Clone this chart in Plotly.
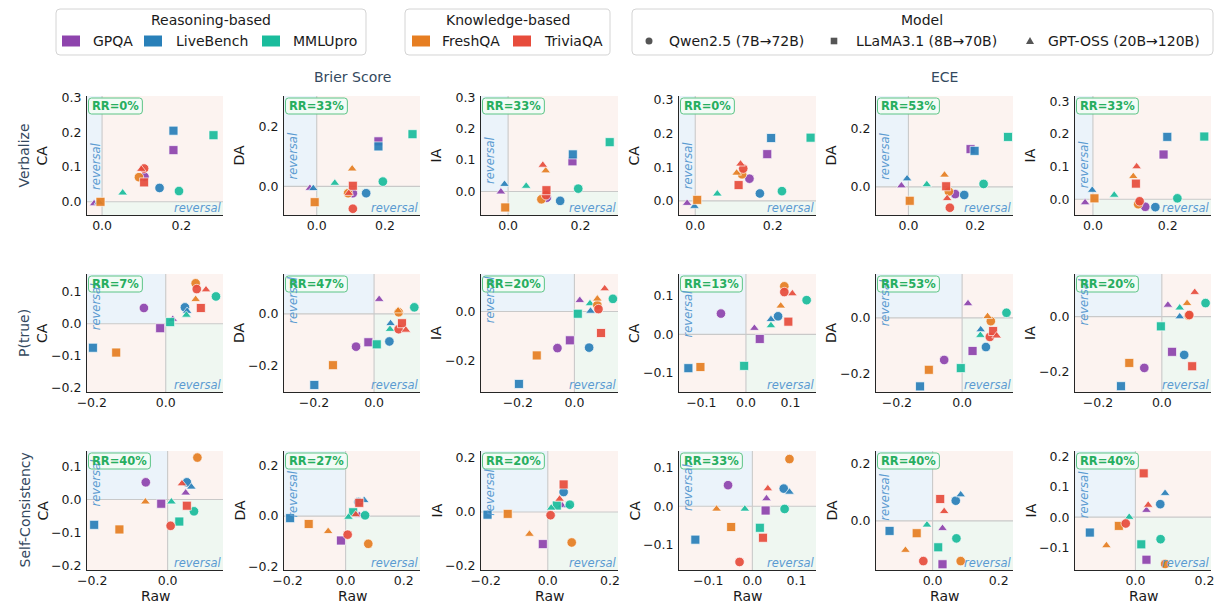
import plotly.graph_objects as go

W, H = 1222, 604
FONT = "DejaVu Sans"

# ---------------- categories ----------------
DATASETS = ["GPQA", "LiveBench", "MMLUpro", "FreshQA", "TriviaQA"]
DATASET_COLORS = ["#8e44ad", "#2980b9", "#1abc9c", "#e67e22", "#e74c3c"]
REASONING_SETS = ["GPQA", "LiveBench", "MMLUpro"]
KNOWLEDGE_SETS = ["FreshQA", "TriviaQA"]
MODELS = ["Qwen2.5 (7B→72B)", "LLaMA3.1 (8B→70B)", "GPT-OSS (20B→120B)"]
MODEL_SYMBOLS = ["circle", "square", "triangle-up"]
METHODS = ["Verbalize", "P(true)", "Self-Consistency"]
METRICS = ["Brier Score", "ECE"]
ACC_TYPES = ["CA", "DA", "IA"]

# ---------------- data ----------------
# point order: dataset-major (GPQA, LiveBench, MMLUpro, FreshQA, TriviaQA), model-minor (Qwen, LLaMA, GPT-OSS)
VERB_BRIER_CA_RAW = [0.107, 0.180, -0.020, 0.145, 0.180, -0.008, 0.194, 0.281, 0.052, 0.093, -0.004, 0.104, 0.106, 0.106, 0.099]
VERB_BRIER_CA_VAL = [0.072, 0.149, -0.005, 0.040, 0.205, -0.001, 0.031, 0.192, 0.026, 0.071, 0.000, 0.094, 0.096, 0.056, 0.094]
VERB_BRIER_DA_RAW = [0.106, 0.181, -0.020, 0.145, 0.181, -0.010, 0.194, 0.281, 0.053, 0.092, -0.006, 0.104, 0.106, 0.106, 0.094]
VERB_BRIER_DA_VAL = [-0.023, 0.151, -0.006, -0.023, 0.134, -0.007, 0.016, 0.175, 0.011, -0.023, -0.053, 0.059, -0.075, 0.002, -0.023]
VERB_BRIER_IA_RAW = [0.107, 0.178, -0.020, 0.144, 0.179, -0.010, 0.194, 0.281, 0.050, 0.092, -0.008, 0.104, 0.105, 0.106, 0.096]
VERB_BRIER_IA_VAL = [-0.020, 0.096, -0.001, -0.030, 0.118, 0.023, 0.009, 0.157, 0.017, -0.025, -0.051, 0.066, -0.012, 0.004, 0.084]
VERB_ECE_CA_RAW = [0.140, 0.186, -0.021, 0.167, 0.196, -0.002, 0.224, 0.298, 0.057, 0.121, 0.005, 0.107, 0.124, 0.112, 0.117]
VERB_ECE_CA_VAL = [0.066, 0.139, -0.007, 0.022, 0.187, -0.016, 0.029, 0.188, 0.021, 0.079, 0.003, 0.083, 0.096, 0.047, 0.110]
VERB_ECE_DA_RAW = [0.140, 0.186, -0.021, 0.167, 0.198, -0.004, 0.225, 0.298, 0.055, 0.121, 0.004, 0.108, 0.124, 0.113, 0.116]
VERB_ECE_DA_VAL = [-0.025, 0.130, 0.004, -0.028, 0.124, 0.028, 0.010, 0.172, 0.008, -0.016, -0.048, 0.041, -0.072, 0.002, -0.040]
VERB_ECE_IA_RAW = [0.140, 0.189, -0.021, 0.167, 0.199, -0.002, 0.226, 0.298, 0.057, 0.121, 0.004, 0.108, 0.125, 0.115, 0.117]
VERB_ECE_IA_VAL = [-0.023, 0.137, -0.010, -0.024, 0.191, 0.028, 0.003, 0.192, 0.013, -0.015, 0.003, 0.070, -0.006, 0.048, 0.100]

PTRUE_BRIER_CA_RAW = [-0.059, -0.015, 0.019, 0.052, -0.197, 0.058, 0.136, 0.012, 0.056, 0.081, -0.134, 0.081, 0.084, 0.095, 0.109]
PTRUE_BRIER_CA_VAL = [0.049, -0.014, 0.014, 0.051, -0.075, 0.039, 0.085, 0.005, 0.027, 0.126, -0.090, 0.076, 0.108, 0.049, 0.106]
PTRUE_BRIER_DA_RAW = [-0.060, -0.019, 0.017, 0.051, -0.199, 0.055, 0.134, 0.009, 0.053, 0.082, -0.137, 0.080, 0.082, 0.093, 0.106]
PTRUE_BRIER_DA_VAL = [-0.126, -0.109, 0.056, -0.106, -0.273, -0.037, 0.025, -0.117, -0.059, 0.006, -0.197, 0.012, -0.059, -0.036, -0.062]
PTRUE_BRIER_IA_RAW = [-0.060, -0.016, 0.019, 0.052, -0.196, 0.057, 0.136, 0.012, 0.055, 0.081, -0.133, 0.081, 0.085, 0.094, 0.107]
PTRUE_BRIER_IA_VAL = [-0.150, -0.118, 0.046, -0.148, -0.297, 0.002, 0.052, -0.009, 0.033, 0.026, -0.180, 0.052, 0.010, -0.088, 0.094]
PTRUE_ECE_CA_RAW = [-0.056, 0.031, 0.019, 0.072, -0.129, 0.056, 0.136, -0.004, 0.056, 0.086, -0.102, 0.078, 0.086, 0.095, 0.104]
PTRUE_ECE_CA_VAL = [0.054, -0.012, 0.016, 0.047, -0.088, 0.039, 0.089, -0.082, 0.023, 0.125, -0.085, 0.074, 0.110, 0.033, 0.106]
PTRUE_ECE_DA_RAW = [-0.055, 0.032, 0.018, 0.073, -0.129, 0.057, 0.136, -0.004, 0.056, 0.088, -0.102, 0.078, 0.085, 0.095, 0.106]
PTRUE_ECE_DA_VAL = [-0.150, -0.118, 0.051, -0.104, -0.244, -0.042, 0.018, -0.179, -0.062, -0.012, -0.185, 0.005, -0.068, -0.047, -0.064]
PTRUE_ECE_IA_RAW = [-0.055, 0.032, 0.019, 0.070, -0.128, 0.056, 0.137, -0.003, 0.056, 0.084, -0.102, 0.079, 0.086, 0.095, 0.103]
PTRUE_ECE_IA_VAL = [-0.185, -0.127, 0.042, -0.138, -0.251, 0.000, 0.049, -0.035, 0.032, 0.004, -0.167, 0.048, 0.006, -0.179, 0.088]

SC_BRIER_CA_RAW = [-0.058, -0.017, 0.048, 0.051, -0.195, 0.063, 0.070, 0.031, 0.010, 0.079, -0.128, -0.059, 0.008, 0.051, 0.038]
SC_BRIER_CA_VAL = [0.052, -0.013, 0.020, 0.052, -0.077, 0.038, -0.036, -0.067, -0.007, 0.127, -0.091, -0.007, -0.080, -0.019, 0.048]
SC_BRIER_DA_RAW = [None, -0.016, 0.047, 0.044, -0.191, 0.064, 0.067, 0.026, 0.010, 0.078, -0.127, -0.060, 0.007, 0.047, 0.035]
SC_BRIER_DA_VAL = [None, -0.096, 0.003, 0.055, -0.008, 0.062, 0.003, 0.015, -0.004, -0.109, -0.031, -0.060, -0.073, 0.052, 0.006]
SC_BRIER_IA_RAW = [None, -0.016, 0.046, 0.051, -0.194, 0.065, 0.071, 0.029, 0.011, 0.077, -0.129, -0.059, 0.009, 0.051, 0.038]
SC_BRIER_IA_VAL = [None, -0.119, 0.024, 0.074, -0.010, 0.024, 0.027, 0.024, 0.015, -0.113, -0.007, -0.082, -0.012, 0.102, 0.048]
SC_ECE_CA_RAW = [-0.055, 0.030, 0.032, 0.071, -0.129, 0.084, 0.073, 0.017, -0.017, 0.084, -0.048, -0.081, -0.029, 0.024, 0.035]
SC_ECE_CA_VAL = [0.055, -0.011, 0.020, 0.046, -0.087, 0.037, -0.007, -0.056, -0.007, 0.123, -0.054, -0.007, -0.145, -0.082, 0.046]
SC_ECE_DA_RAW = [None, 0.030, 0.030, 0.070, -0.130, 0.085, 0.072, 0.017, -0.017, 0.085, -0.048, -0.082, -0.028, 0.023, 0.035]
SC_ECE_DA_VAL = [None, -0.151, -0.026, 0.070, -0.035, 0.091, -0.061, -0.092, -0.014, -0.140, -0.043, -0.102, -0.140, 0.076, 0.033]
SC_ECE_IA_RAW = [None, 0.032, 0.032, 0.072, -0.132, 0.086, 0.073, 0.017, -0.018, 0.086, -0.048, -0.084, -0.028, 0.024, 0.037]
SC_ECE_IA_VAL = [None, -0.141, 0.023, 0.043, -0.051, 0.079, -0.073, -0.090, 0.000, -0.155, -0.029, -0.094, -0.021, 0.145, 0.040]

# reversal rates (%) per panel
RR_VERB = [0, 33, 33, 0, 53, 33]
RR_PTRUE = [7, 47, 20, 13, 53, 20]
RR_SC = [40, 27, 20, 33, 40, 40]

PANEL_RAW = [
    [VERB_BRIER_CA_RAW, VERB_BRIER_DA_RAW, VERB_BRIER_IA_RAW, VERB_ECE_CA_RAW, VERB_ECE_DA_RAW, VERB_ECE_IA_RAW],
    [PTRUE_BRIER_CA_RAW, PTRUE_BRIER_DA_RAW, PTRUE_BRIER_IA_RAW, PTRUE_ECE_CA_RAW, PTRUE_ECE_DA_RAW, PTRUE_ECE_IA_RAW],
    [SC_BRIER_CA_RAW, SC_BRIER_DA_RAW, SC_BRIER_IA_RAW, SC_ECE_CA_RAW, SC_ECE_DA_RAW, SC_ECE_IA_RAW],
]
PANEL_VAL = [
    [VERB_BRIER_CA_VAL, VERB_BRIER_DA_VAL, VERB_BRIER_IA_VAL, VERB_ECE_CA_VAL, VERB_ECE_DA_VAL, VERB_ECE_IA_VAL],
    [PTRUE_BRIER_CA_VAL, PTRUE_BRIER_DA_VAL, PTRUE_BRIER_IA_VAL, PTRUE_ECE_CA_VAL, PTRUE_ECE_DA_VAL, PTRUE_ECE_IA_VAL],
    [SC_BRIER_CA_VAL, SC_BRIER_DA_VAL, SC_BRIER_IA_VAL, SC_ECE_CA_VAL, SC_ECE_DA_VAL, SC_ECE_IA_VAL],
]
PANEL_RR = [RR_VERB, RR_PTRUE, RR_SC]

# ---------------- layout settings ----------------
COL_PX = [(79, 215), (276, 412), (473, 610), (671, 808), (868, 1005), (1067, 1203)]
ROW_PX = [(88, 207), (266, 384), (443, 562)]
LIMITS = [
    [(-0.038, 0.305), (-0.096, 0.303), (-0.075, 0.304), (-0.042, 0.312), (-0.097, 0.313), (-0.048, 0.316)],
    [(-0.213, 0.155), (-0.300, 0.153), (-0.330, 0.154), (-0.150, 0.157), (-0.264, 0.156), (-0.272, 0.154)],
    [(-0.214, 0.147), (-0.212, 0.256), (-0.215, 0.226), (-0.166, 0.144), (-0.171, 0.243), (-0.175, 0.219)],
]
XTICKS = [
    [[0, 0.2]] * 6,
    [[-0.2, 0], [-0.2, 0], [-0.2, 0], [-0.1, 0, 0.1], [-0.2, 0], [-0.2, 0]],
    [[-0.2, 0], [-0.2, 0, 0.2], [-0.2, 0, 0.2], [-0.1, 0, 0.1], [0, 0.2], [0, 0.2]],
]
YTICKS = [
    [[0, 0.1, 0.2, 0.3], [0, 0.2], [0, 0.1, 0.2, 0.3], [0, 0.1, 0.2, 0.3], [0, 0.2], [0, 0.1, 0.2, 0.3]],
    [[-0.2, -0.1, 0, 0.1], [-0.2, 0], [-0.2, 0], [-0.1, 0, 0.1], [-0.2, 0], [-0.2, 0]],
    [[-0.2, -0.1, 0, 0.1], [-0.2, 0, 0.2], [-0.2, 0, 0.2], [-0.1, 0, 0.1], [0, 0.2], [-0.1, 0, 0.1, 0.2]],
]

MARKER_SIZES = [9.5, 9, 8.5]
C_BLUE_Q = "#ebf3fa"
C_GREEN_Q = "#eff7f1"
C_PINK_Q = "#fcf3f0"
C_ZERO = "#c9c9c9"
C_REV = "#5b9bd1"
C_RR = "#27ae60"
C_TITLE = "#34495e"
C_AXIS = "#262626"
RR_FONT = 11.5
# DejaVu Sans Bold advance widths (em) for the badge characters
BOLD_EM = {"R": 0.770, "=": 0.838, "%": 1.002}


def px_x(px):
    return px / W


def px_y(py):
    return 1 - py / H


def rounded_box(x0, y0, x1, y1, rad=4):
    def P(px, py):
        return "%.5f,%.5f" % (px_x(px), px_y(py))
    return ("M" + P(x0 + rad, y0) + " L" + P(x1 - rad, y0) + " Q" + P(x1, y0) + " " + P(x1, y0 + rad) +
            " L" + P(x1, y1 - rad) + " Q" + P(x1, y1) + " " + P(x1 - rad, y1) +
            " L" + P(x0 + rad, y1) + " Q" + P(x0, y1) + " " + P(x0, y1 - rad) +
            " L" + P(x0, y0 + rad) + " Q" + P(x0, y0) + " " + P(x0 + rad, y0) + " Z")


fig = go.Figure()
layout = {}
shapes = []
annotations = []

for r in range(3):
    for c in range(6):
        n = r * 6 + c + 1
        sfx = "" if n == 1 else str(n)
        xr, yr = "x" + sfx, "y" + sfx
        lo, hi = LIMITS[r][c]
        (cx0, cx1), (ry0, ry1) = COL_PX[c], ROW_PX[r]
        axis_common = dict(
            range=[lo, hi], tickformat=".1f", showline=True, linecolor=C_AXIS, linewidth=1.3,
            ticks="", showgrid=False, zeroline=False, automargin=False, fixedrange=True,
            tickfont=dict(family=FONT, size=12.5, color="#1a1a1a"),
        )
        layout["xaxis" + sfx] = dict(axis_common, domain=[px_x(cx0), px_x(cx1)], anchor=yr,
                                     tickvals=XTICKS[r][c], ticklabelstandoff=-1)
        layout["yaxis" + sfx] = dict(axis_common, domain=[px_y(ry1), px_y(ry0)], anchor=xr,
                                     tickvals=YTICKS[r][c], ticklabelstandoff=2)

        # quadrant shading
        for (qx0, qx1, qy0, qy1, col) in [
            (lo, 0, 0, hi, C_BLUE_Q), (0, hi, 0, hi, C_PINK_Q),
            (lo, 0, lo, 0, C_PINK_Q), (0, hi, lo, 0, C_GREEN_Q),
        ]:
            shapes.append(dict(type="rect", xref=xr, yref=yr, x0=qx0, x1=qx1, y0=qy0, y1=qy1,
                               fillcolor=col, line=dict(width=0), layer="below"))
        shapes.append(dict(type="line", xref=xr, yref=yr, x0=0, x1=0, y0=lo, y1=hi,
                           line=dict(color=C_ZERO, width=1.1), layer="below"))
        shapes.append(dict(type="line", xref=xr, yref=yr, x0=lo, x1=hi, y0=0, y1=0,
                           line=dict(color=C_ZERO, width=1.1), layer="below"))

        # points
        raw, val = PANEL_RAW[r][c], PANEL_VAL[r][c]
        for d, dname in enumerate(DATASETS):
            xs = raw[d * 3:(d + 1) * 3]
            ys = val[d * 3:(d + 1) * 3]
            fig.add_trace(go.Scatter(
                x=xs, y=ys, xaxis=xr, yaxis=yr, mode="markers", showlegend=False,
                name=dname, text=MODELS, hovertemplate="%{text}<br>raw=%{x}<br>Δ=%{y}<extra>" + dname + "</extra>",
                marker=dict(color=DATASET_COLORS[d], symbol=MODEL_SYMBOLS, size=MARKER_SIZES,
                            opacity=0.92, line=dict(color="white", width=0.7)),
            ))

        # reversal labels
        annotations.append(dict(xref=xr + " domain", yref=yr, x=0, y=0.33 * hi, xanchor="left", yanchor="middle",
                                xshift=0, textangle=-90, showarrow=False, text="reversal",
                                font=dict(family=FONT, size=11.5, color=C_REV, style="italic")))
        annotations.append(dict(xref=xr + " domain", yref=yr + " domain", x=1, y=0, xanchor="right",
                                yanchor="bottom", xshift=0, yshift=-2, showarrow=False, text="reversal",
                                font=dict(family=FONT, size=11.5, color=C_REV, style="italic")))
        # RR badge (rounded box + bold text)
        label = "RR=%d%%" % PANEL_RR[r][c]
        text_w = sum(BOLD_EM.get(ch, 0.696) for ch in label) * RR_FONT
        bx0, by0 = cx0 + 1.5, ry0 + 2
        bx1, by1 = bx0 + text_w + 7, by0 + 16
        shapes.append(dict(type="path", xref="paper", yref="paper", path=rounded_box(bx0, by0, bx1, by1, 3),
                           fillcolor="rgba(242,251,245,0.95)", line=dict(color="#5cc486", width=1), layer="above"))
        annotations.append(dict(xref="paper", yref="paper", x=px_x((bx0 + bx1) / 2), y=px_y((by0 + by1) / 2),
                                xanchor="center", yanchor="middle", showarrow=False, text="<b>" + label + "</b>",
                                font=dict(family=FONT, size=RR_FONT, color=C_RR)))
        # y-axis title
        annotations.append(dict(xref="paper", yref="paper", x=px_x(cx0 - 45), y=px_y((ry0 + ry1) / 2),
                                xanchor="center", yanchor="middle", textangle=-90, showarrow=False,
                                text=ACC_TYPES[c % 3], font=dict(family=FONT, size=14, color="#1a1a1a")))
        if r == 2:
            annotations.append(dict(xref="paper", yref="paper", x=px_x((cx0 + cx1) / 2), y=px_y(588),
                                    xanchor="center", yanchor="middle", showarrow=False, text="Raw",
                                    font=dict(family=FONT, size=14, color="#1a1a1a")))

# row (method) labels
for r, m in enumerate(METHODS):
    annotations.append(dict(xref="paper", yref="paper", x=px_x(16), y=px_y(sum(ROW_PX[r]) / 2),
                            xanchor="center", yanchor="middle", textangle=-90, showarrow=False,
                            text=m, font=dict(family=FONT, size=14, color=C_TITLE)))
# metric titles
for i, mt in enumerate(METRICS):
    cx0, cx1 = COL_PX[1 + 3 * i]
    annotations.append(dict(xref="paper", yref="paper", x=px_x((cx0 + cx1) / 2), y=px_y(69),
                            xanchor="center", yanchor="middle", showarrow=False, text=mt,
                            font=dict(family=FONT, size=14, color=C_TITLE)))

# ---------------- legends (drawn as boxes) ----------------
LEG_TEXT = dict(family=FONT, size=14, color="#1a1a1a")
LEG_Y = 33
legend_boxes = [
    ("Reasoning-based", 48, 358, [(54, 83), (136, 166), (254, 283)], REASONING_SETS),
    ("Knowledge-based", 397, 602, [(404, 432), (505, 534)], KNOWLEDGE_SETS),
]
for title, bx0, bx1, slots, names in legend_boxes:
    shapes.append(dict(type="path", xref="paper", yref="paper", path=rounded_box(bx0, 1, bx1, 47),
                       line=dict(color="#d4d4d4", width=1), fillcolor="rgba(255,255,255,0.85)"))
    annotations.append(dict(xref="paper", yref="paper", x=px_x((bx0 + bx1) / 2), y=px_y(12),
                            xanchor="center", yanchor="middle", showarrow=False, text=title, font=LEG_TEXT))
    for (patch_x, text_x), nm in zip(slots, names):
        col = DATASET_COLORS[DATASETS.index(nm)]
        shapes.append(dict(type="rect", xref="paper", yref="paper", x0=px_x(patch_x), x1=px_x(patch_x + 18),
                           y0=px_y(LEG_Y + 5.5), y1=px_y(LEG_Y - 5.5), fillcolor=col, line=dict(width=0)))
        annotations.append(dict(xref="paper", yref="paper", x=px_x(text_x), y=px_y(LEG_Y),
                                xanchor="left", yanchor="middle", showarrow=False, text=nm, font=LEG_TEXT))

# model legend
shapes.append(dict(type="path", xref="paper", yref="paper", path=rounded_box(624, 1, 1205, 47),
                   line=dict(color="#d4d4d4", width=1), fillcolor="rgba(255,255,255,0.85)"))
annotations.append(dict(xref="paper", yref="paper", x=px_x(914), y=px_y(12), xanchor="center",
                        yanchor="middle", showarrow=False, text="Model", font=LEG_TEXT))
MODEL_SLOTS = [(641, 659), (826, 846), (1022, 1038)]
GLYPH = "#555555"
for (gx, tx), nm, sym in zip(MODEL_SLOTS, MODELS, MODEL_SYMBOLS):
    if sym == "circle":
        shapes.append(dict(type="circle", xref="paper", yref="paper", x0=px_x(gx - 3.5), x1=px_x(gx + 3.5),
                           y0=px_y(LEG_Y + 3.5), y1=px_y(LEG_Y - 3.5), fillcolor=GLYPH, line=dict(width=0)))
    elif sym == "square":
        shapes.append(dict(type="rect", xref="paper", yref="paper", x0=px_x(gx - 3.3), x1=px_x(gx + 3.3),
                           y0=px_y(LEG_Y + 3.3), y1=px_y(LEG_Y - 3.3), fillcolor=GLYPH, line=dict(width=0)))
    else:
        tri = "M%.5f,%.5f L%.5f,%.5f L%.5f,%.5f Z" % (px_x(gx - 4), px_y(LEG_Y + 3), px_x(gx + 4), px_y(LEG_Y + 3),
                                                      px_x(gx), px_y(LEG_Y - 4))
        shapes.append(dict(type="path", xref="paper", yref="paper", path=tri, fillcolor=GLYPH, line=dict(width=0)))
    annotations.append(dict(xref="paper", yref="paper", x=px_x(tx), y=px_y(LEG_Y), xanchor="left",
                            yanchor="middle", showarrow=False, text=nm, font=LEG_TEXT))

fig.update_layout(
    width=W, height=H, margin=dict(l=0, r=0, t=0, b=0, pad=0),
    paper_bgcolor="white", plot_bgcolor="white", showlegend=False,
    font=dict(family=FONT, size=12.5, color="#1a1a1a"),
    shapes=shapes, annotations=annotations, **layout,
)
fig.write_html("out.html")
